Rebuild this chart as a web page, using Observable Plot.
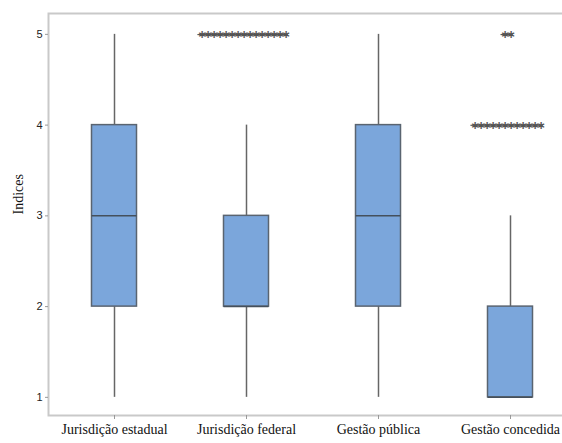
<!DOCTYPE html>
<html>
<head>
<meta charset="utf-8">
<script src="https://cdn.jsdelivr.net/npm/d3@7"></script>
<script src="https://cdn.jsdelivr.net/npm/@observablehq/plot@0.6"></script>
<style>
  html, body { margin: 0; padding: 0; background: #fff; overflow: hidden; }
  #chart svg { overflow: visible; }
  g[aria-label="text"].outl text { text-decoration: line-through; letter-spacing: -3.2px; }
</style>
</head>
<body>
<div id="chart"></div>
<script>
const categories = ["Jurisdição estadual", "Jurisdição federal", "Gestão pública", "Gestão concedida"];
const whiskerLow  = [1, 1, 1, 1];
const q1          = [2, 2, 2, 1];
const medians     = [3, 2, 3, 1];
const q3          = [4, 3, 4, 2];
const whiskerHigh = [5, 4, 5, 3];
const outlierCategory = ["Jurisdição federal", "Gestão concedida", "Gestão concedida"];
const outlierValue    = [5, 4, 5];
const outlierCount    = [15, 12, 2];
const yTicks = [1, 2, 3, 4, 5];

const boxes = categories.map((c, i) => ({
  cat: c, lo: whiskerLow[i], q1: q1[i], med: medians[i], q3: q3[i], hi: whiskerHigh[i]
}));
const outliers = outlierCategory.map((c, i) => ({
  cat: c, value: outlierValue[i], label: "\u2217".repeat(outlierCount[i])
}));

const inset = 43.5;
const plot = Plot.plot({
  width: 562,
  height: 443,
  marginLeft: 48,
  marginRight: -14,
  marginTop: 13,
  marginBottom: 28,
  x: { type: "band", domain: categories, padding: 0, axis: null },
  y: { domain: [0.8, 5.23], axis: null },
  marks: [
    Plot.frame({ stroke: "#c9c9c9", strokeWidth: 2 }),
    Plot.axisY({ ticks: yTicks, tickSize: 3, tickPadding: 3, stroke: "#999", label: null,
                 fontSize: 11, fontFamily: "Liberation Sans, Arial, sans-serif", color: "#222",
                 tickFormat: d3.format("d") }),
    Plot.axisX({ tickSize: 4, tickPadding: 5, stroke: "#999", label: null,
                 fontSize: 14, fontFamily: "Liberation Serif, Times New Roman, serif", color: "#111" }),
    Plot.text(["Indices"], { frameAnchor: "left", dx: -30, rotate: -90, fontSize: 14,
                 fontFamily: "Liberation Serif, Times New Roman, serif", fill: "#111" }),
    Plot.ruleX(boxes, { x: "cat", y1: "lo", y2: "q1", stroke: "#666", strokeWidth: 1.5 }),
    Plot.ruleX(boxes, { x: "cat", y1: "q3", y2: "hi", stroke: "#666", strokeWidth: 1.5 }),
    Plot.barY(boxes, { x: "cat", y1: "q1", y2: "q3", insetLeft: inset, insetRight: inset,
                 fill: "#7ba6db", stroke: "#5a6470", strokeWidth: 1.5 }),
    Plot.tickY(boxes, { x: "cat", y: "med", insetLeft: inset, insetRight: inset,
                 stroke: "#45505c", strokeWidth: 1.5 }),
    Plot.text(outliers, { x: "cat", y: "value", text: "label", dy: 0, dx: -4, fontSize: 11,
                 fontWeight: "bold", fontFamily: "DejaVu Sans, sans-serif", fill: "#555",
                 className: "outl" })
  ]
});
document.getElementById("chart").appendChild(plot);
</script>
</body>
</html>
